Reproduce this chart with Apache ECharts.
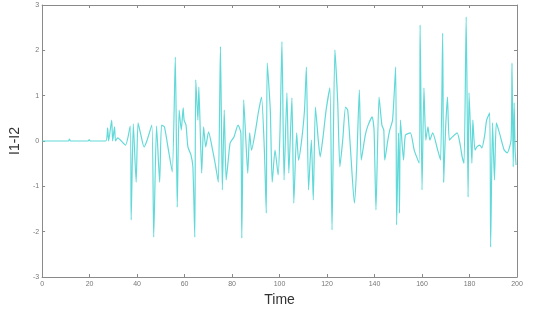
<!DOCTYPE html>
<html>
<head>
<meta charset="utf-8">
<script src="https://cdn.jsdelivr.net/npm/echarts@6/dist/echarts.min.js"></script>
<style>
  html, body { margin: 0; padding: 0; background: #fff; }
  #chart { width: 550px; height: 315px; }
</style>
</head>
<body>
<div id="chart"></div>
<script>
// signal: time and I1-I2
var times = [0, 11.1, 11.5, 12.0, 19.4, 19.8, 20.2, 26.8, 27.6, 28.0, 29.3, 29.7, 30.5, 30.9, 31.8, 35.1, 37.1, 37.5, 38.4, 39.6,
  40.4, 41.6, 42.9, 44.1, 46.2, 47.0, 48.2, 49.5, 50.3, 51.5, 53.2, 54.8, 56.1, 56.9, 57.7, 58.6, 59.4, 59.8, 60.6, 61.4,
  62.7, 63.5, 64.3, 64.7, 65.6, 66.0, 67.2, 68.0, 68.9, 70.1, 71.8, 73.0, 74.2, 75.1, 75.9, 76.7, 77.5, 78.4, 79.2, 80.8,
  82.5, 83.7, 84.1, 84.9, 85.8, 86.6, 87.4, 88.2, 89.9, 91.1, 92.4, 93.6, 94.4, 94.8, 96.1, 96.9, 98.1, 99.4, 100.2, 101.0,
  101.9, 103.1, 103.9, 105.2, 106.0, 107.2, 108.0, 109.3, 110.5, 111.3, 112.2, 113.4, 114.2, 115.1, 116.3, 117.1, 118.4, 119.6, 121.2, 122.1,
  123.3, 124.5, 125.4, 126.6, 127.8, 128.7, 129.9, 131.5, 132.4, 133.6, 134.4, 136.1, 137.3, 139.0, 139.8, 140.6, 141.9, 143.1, 143.9, 144.3,
  145.6, 146.4, 147.6, 148.9, 149.3, 150.1, 150.5, 150.9, 152.2, 153.0, 155.1, 156.7, 158.8, 159.2, 160.0, 160.8, 161.6, 162.5, 163.3, 164.5,
  166.6, 167.8, 168.7, 169.1, 169.9, 170.7, 171.5, 172.8, 174.8, 176.1, 176.9, 177.7, 178.6, 179.4, 179.8, 181.0, 181.4, 182.3, 183.1, 184.3,
  185.2, 186.4, 187.2, 188.5, 188.9, 189.7, 190.5, 191.3, 192.6, 194.6, 195.9, 197.5, 197.9, 198.4, 198.8, 199.2, 199.6];
var diffs = [0, 0, 0.04, 0, 0, 0.03, 0, 0, 0.29, 0, 0.46, 0, 0.31, 0, 0.07, -0.09, 0.33, -1.74, 0.38, -0.91,
  0.4, 0.13, -0.13, 0, 0.35, -2.12, 0.33, -0.91, 0.35, 0.31, -0.2, -0.68, 1.85, -1.46, 0.68, 0.24, 0.73, 0.46, 0.35, -0.13,
  -0.31, -0.57, -2.12, 1.35, 0.46, 1.19, -0.71, 0.31, -0.13, 0.2, -0.2, -0.53, -0.91, 2.08, -1.08, 0.68, -0.86, -0.42, -0.04, 0.09,
  0.35, 0.18, -2.14, 0.91, 0.02, -0.71, 0.18, -0.2, 0.24, 0.64, 0.97, -0.2, -1.59, 1.72, 0.68, -0.91, -0.2, -0.75, 0.24, 2.19,
  -0.86, 1.06, -0.71, 0.95, -1.37, 0.18, -0.42, 0.02, 0.68, 1.63, -1.08, 0.02, -1.3, 0.75, 0.02, -0.35, 0.13, 0.68, 1.17, -1.96,
  2.01, 0.84, -0.57, 0.02, 0.75, 0.68, -0.2, -1.37, -0.64, 1.13, -0.42, 0.13, 0.35, 0.53, 0.24, -1.52, 0.97, 0.35, 0.24, -0.42,
  0.02, 0.24, 0.46, 1.63, -1.85, 0.18, -1.59, 0.46, -0.42, 0.13, 0.18, -0.2, -0.49, 2.56, -1.08, 1.17, 0.02, 0.31, 0.02, 0.18,
  -0.2, -0.42, 2.38, -0.91, 0.24, 0.97, 0.02, 0.09, 0.18, -0.09, -0.35, -0.49, 2.74, -1.24, 1.06, -0.49, 0.46, -0.2, -0.13, -0.09,
  -0.15, 0.13, 0.46, 0.62, -2.34, 0.4, -0.86, 0.4, 0.18, -0.2, -0.26, 0.02, 1.72, -0.57, 0.84, -0.2, -0.53];

var xTicks = [0, 20, 40, 60, 80, 100, 120, 140, 160, 180, 200];
var yTicks = [-3, -2, -1, 0, 1, 2, 3];

var points = times.map(function (t, i) { return [t, diffs[i]]; });

var frame = '#8a8a8a';
var tickLabel = { color: '#777', fontSize: 7, fontFamily: 'Liberation Sans' };
var frameLine = { show: true, onZero: false, lineStyle: { color: frame } };
var frameTick = { show: true, inside: true, length: 3, lineStyle: { color: frame } };

var chart = echarts.init(document.getElementById('chart'));
chart.setOption({
  animation: false,
  grid: { left: 33, right: 33, top: 5, bottom: 38 },
  xAxis: [
    {
      type: 'value', min: xTicks[0], max: xTicks[xTicks.length - 1], interval: 20,
      name: 'Time', nameLocation: 'middle', nameGap: 15,
      nameTextStyle: { color: '#333', fontSize: 14, fontFamily: 'Liberation Sans' },
      axisLine: frameLine, axisTick: frameTick,
      axisLabel: Object.assign({ margin: 4 }, tickLabel),
      splitLine: { show: false }
    },
    {
      type: 'value', position: 'top', min: 0, max: 200, interval: 20,
      axisLine: frameLine, axisTick: frameTick,
      axisLabel: { show: false }, splitLine: { show: false }
    }
  ],
  yAxis: [
    {
      type: 'value', min: yTicks[0], max: yTicks[yTicks.length - 1], interval: 1,
      name: 'I1-I2', nameLocation: 'middle', nameGap: 10, nameRotate: 90,
      nameTextStyle: { color: '#333', fontSize: 14, fontFamily: 'Liberation Sans' },
      axisLine: frameLine, axisTick: frameTick,
      axisLabel: Object.assign({ margin: 3 }, tickLabel),
      splitLine: { show: false }
    },
    {
      type: 'value', position: 'right', min: -3, max: 3, interval: 1,
      axisLine: frameLine, axisTick: frameTick,
      axisLabel: { show: false }, splitLine: { show: false }
    }
  ],
  series: [{
    type: 'line',
    data: points,
    showSymbol: false,
    smooth: 0.2,
    lineStyle: { color: '#62d9d9', width: 1.2 }
  }]
});
</script>
</body>
</html>
